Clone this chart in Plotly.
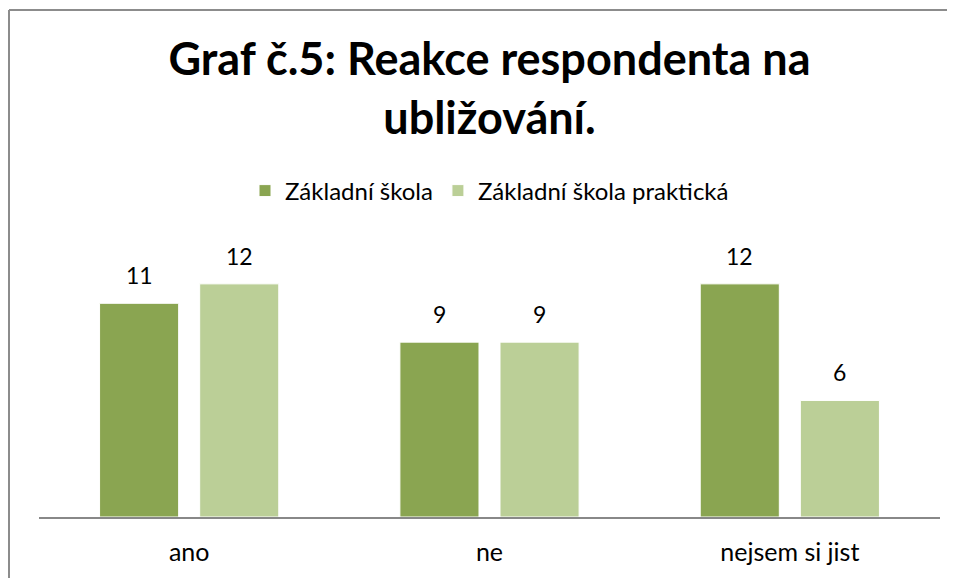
import plotly.graph_objects as go

# data
categories = ["ano", "ne", "nejsem si jist"]
zakladni = [11, 9, 12]
prakticka = [12, 9, 6]
series_names = ["Základní škola", "Základní škola praktická"]
colors = ["#8aa551", "#bbcf97"]

W, H = 955, 578
OFF = 8  # page body margin shifts the figure by this much
ML, MR, MT, MB = 39 - OFF, 23, 245 - OFF, 61 + OFF
FONT = "Lato, Calibri, sans-serif"

fig = go.Figure()
for name, vals, col in zip(series_names, [zakladni, prakticka], colors):
    fig.add_trace(go.Bar(
        x=categories, y=vals, name=name,
        marker=dict(color=col, line=dict(color="white", width=1)),
    ))

# value labels above bars
annotations = []
for shift, vals in zip([-50, 50], [zakladni, prakticka]):
    for cat, v in zip(categories, vals):
        annotations.append(dict(
            x=cat, y=v, text=str(v), showarrow=False,
            xshift=shift, yshift=28, yanchor="middle",
            font=dict(size=23, color="black"),
        ))

# convert pixel positions of the outer frame to paper coords
pw, ph = W - ML - MR, H - MT - MB
def px(x):
    return (x - OFF - ML) / pw
def py(y):
    return (H - MB - (y - OFF)) / ph

fig.update_layout(
    width=W, height=H,
    margin=dict(l=ML, r=MR, t=MT, b=MB),
    paper_bgcolor="white", plot_bgcolor="white",
    font=dict(family=FONT, size=23, color="black"),
    title=dict(
        text="<b>Graf č.5: Reakce respondenta na<br>ubližování.</b>",
        font=dict(family=FONT, size=45, color="black"),
        x=0.5, xref="paper", xanchor="center",
        y=1 - 67 / H, yref="container", yanchor="top",
    ),
    legend=dict(
        orientation="h", x=0.5, xanchor="center", xref="paper",
        y=1 - (191 - OFF) / H, yref="container", yanchor="middle",
        font=dict(size=24), itemwidth=30, traceorder="normal",
    ),
    barmode="group", bargap=1 / 3, bargroupgap=0.21,
    xaxis=dict(showline=True, linecolor="#888888", linewidth=1.5,
               ticks="", showgrid=False, tickfont=dict(size=25),
               ticklabelstandoff=12),
    yaxis=dict(range=[0, 14], visible=False, showgrid=False),
    annotations=annotations,
    shapes=[
        dict(type="line", xref="paper", yref="paper", x0=px(9), x1=px(W + OFF),
             y0=py(10), y1=py(10), line=dict(color="#8c8c8c", width=2)),
        dict(type="line", xref="paper", yref="paper", x0=px(9), x1=px(9),
             y0=py(10), y1=py(H + OFF), line=dict(color="#8c8c8c", width=2)),
    ],
)

fig.write_html("out.html")
